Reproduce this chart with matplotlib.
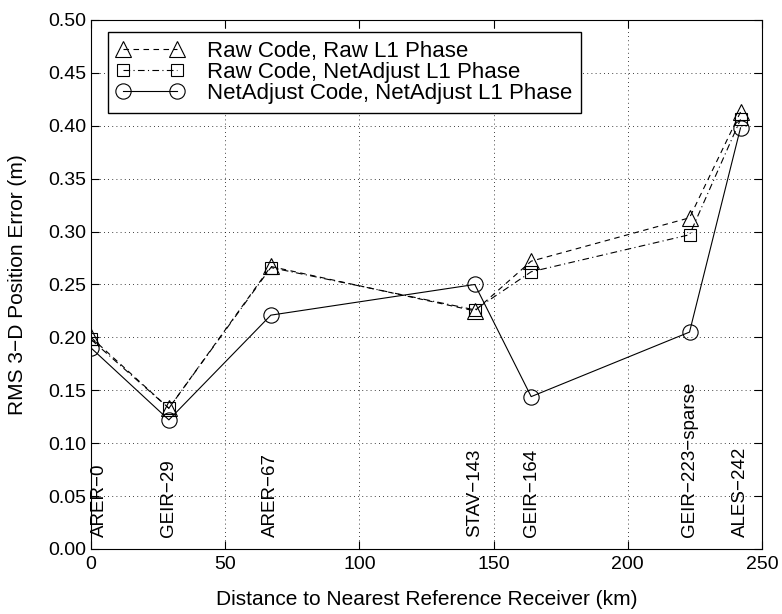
import matplotlib
matplotlib.use('Agg')
import matplotlib.pyplot as plt

plt.rcParams['font.family'] = ['Liberation Sans', 'DejaVu Sans']
plt.rcParams['font.size'] = 14

distance = [0, 29, 67, 143, 164, 223, 242]
site_labels = ['ARER\u22120', 'GEIR\u221229', 'ARER\u221267', 'STAV\u2212143',
               'GEIR\u2212164', 'GEIR\u2212223\u2212sparse', 'ALES\u2212242']
label_align = ['left', 'center', 'center', 'center', 'center', 'center', 'center']
raw_raw = [0.200, 0.133, 0.267, 0.225, 0.272, 0.313, 0.413]
raw_net = [0.198, 0.133, 0.266, 0.226, 0.262, 0.297, 0.406]
net_net = [0.190, 0.122, 0.221, 0.250, 0.144, 0.205, 0.398]

fig = plt.figure(figsize=(7.82, 6.14), dpi=100)
ax = fig.add_axes([0.1164, 0.1059, 0.858, 0.8616])

ax.plot(distance, raw_raw, color='black', linestyle=(0, (5, 4)), linewidth=0.8,
        marker='^', markersize=11, markerfacecolor='none', markeredgewidth=0.8,
        label='Raw Code, Raw L1 Phase')
ax.plot(distance, raw_net, color='black', linestyle=(0, (6, 3, 1, 3)), linewidth=0.8,
        marker='s', markersize=8.5, markerfacecolor='none', markeredgewidth=0.8,
        label='Raw Code, NetAdjust L1 Phase')
ax.plot(distance, net_net, color='black', linestyle='-', linewidth=0.8,
        marker='o', markersize=11, markerfacecolor='none', markeredgewidth=0.8,
        label='NetAdjust Code, NetAdjust L1 Phase')

for x, lab, ha in zip(distance, site_labels, label_align):
    ax.text(x, 0.011, lab, rotation=90, ha=ha, va='bottom', fontsize=13.5)

ax.set_xlim(0, 250)
ax.set_ylim(0, 0.5)
ax.set_xticks([0, 50, 100, 150, 200, 250])
ax.set_yticks([i * 0.05 for i in range(11)])
ax.set_yticklabels(['%.2f' % (i * 0.05) for i in range(11)])
ax.tick_params(direction='in', length=6, top=True, right=True, labelsize=14)
ax.tick_params(axis='x', pad=5)
ax.grid(True, linestyle=(0, (1, 4)), color='black', linewidth=0.6)
ax.set_xlabel('Distance to Nearest Reference Receiver (km)', fontsize=15, labelpad=12)
ax.set_ylabel('RMS 3\u2212D Position Error (m)', fontsize=15)
ax.yaxis.set_label_coords(-0.095, 0.5)

leg = ax.legend(loc='upper left', bbox_to_anchor=(0.025, 0.977), fontsize=16,
                numpoints=2, frameon=True, fancybox=False, edgecolor='black',
                framealpha=1, borderaxespad=0, handlelength=3.0, borderpad=0.4,
                labelspacing=0.0, handletextpad=1.05)
leg.get_frame().set_linewidth(1.0)

fig.savefig('out.png', dpi=100)
